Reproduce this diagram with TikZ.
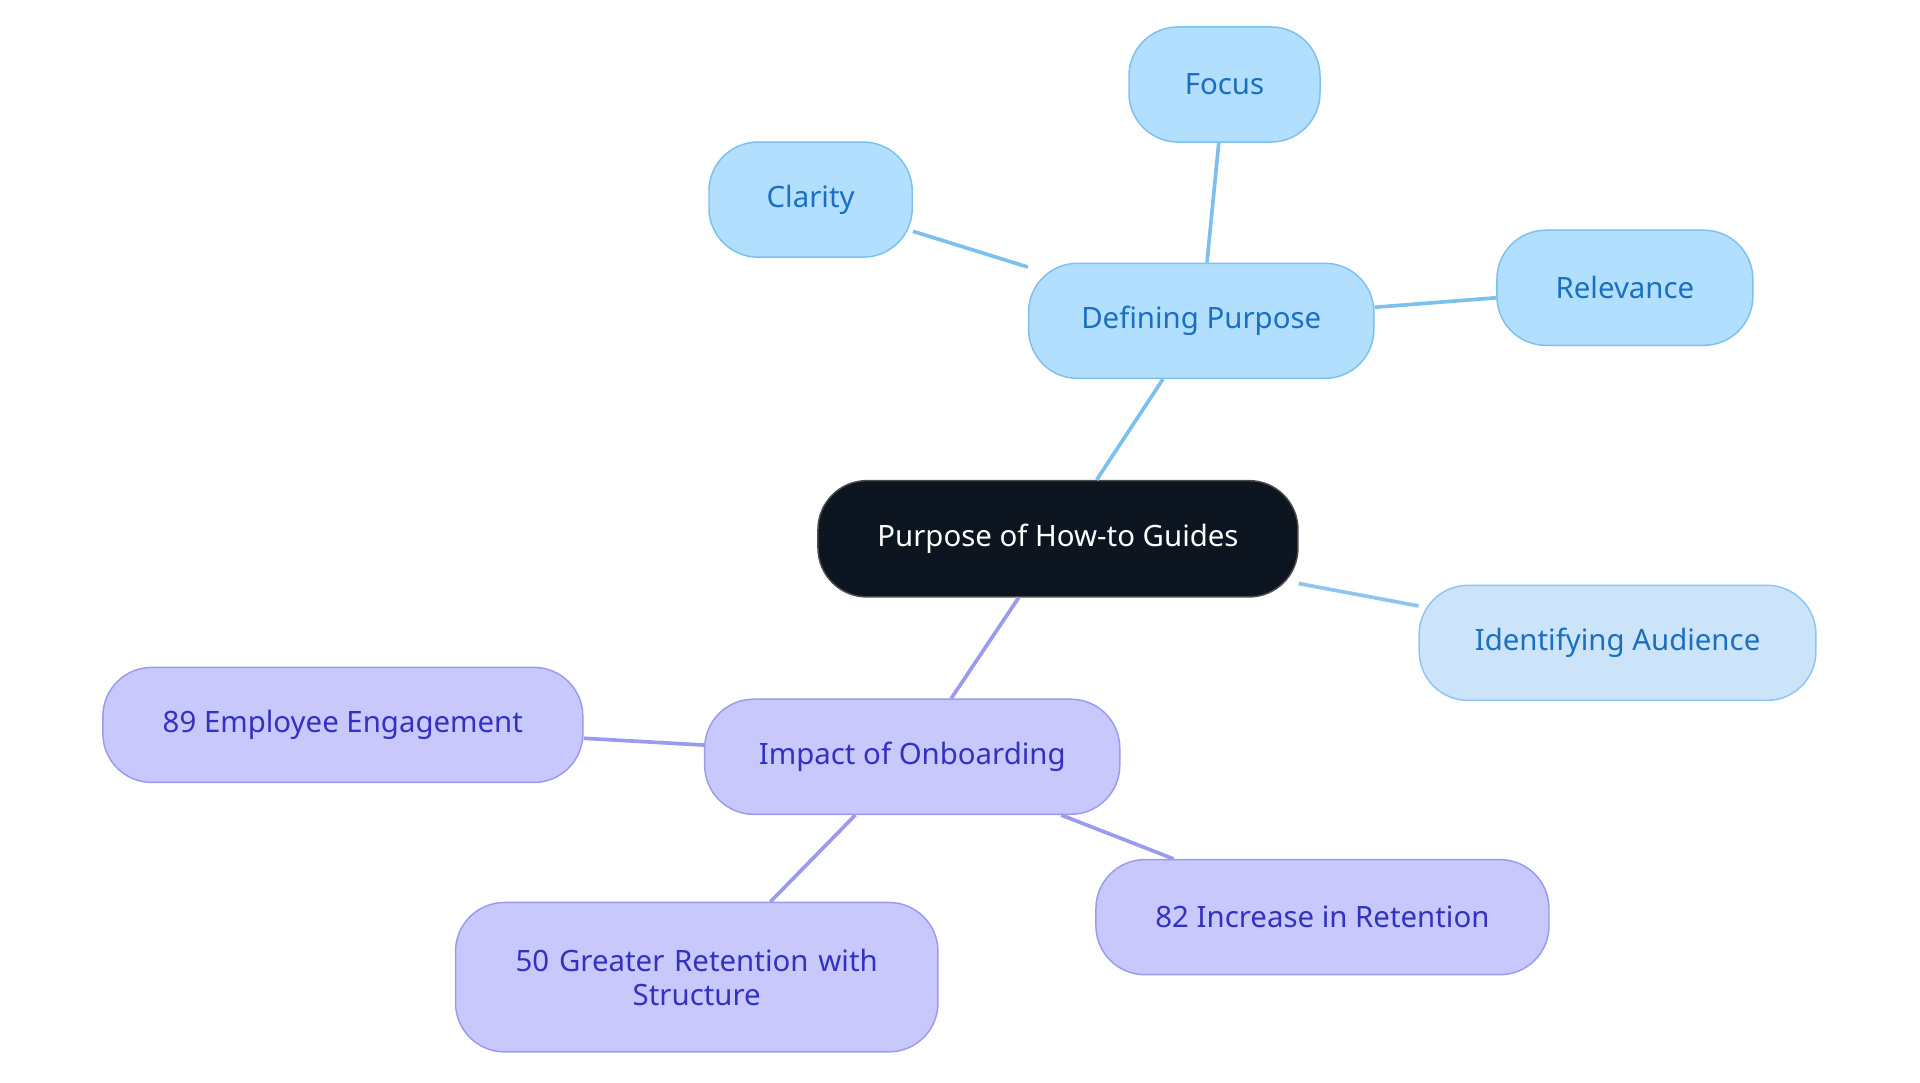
\documentclass[tikz,border=0pt]{standalone}
\usepackage{fontspec}
\setmainfont{Noto Sans}
\begin{document}
\begin{tikzpicture}[x=1pt,y=-1pt,
  box/.style={draw, line width=1.2pt, rounded corners=40pt, minimum height=94pt, align=center, font=\fontsize{24}{28}\selectfont},
  blue/.style={box, fill=c1fill, draw=c1line, text=c1text},
  aud/.style={box, fill=c2fill, draw=c2line, text=c1text},
  purp/.style={box, fill=c3fill, draw=c3line, text=c3text},
  bl/.style={c1line, line width=3pt},
  pl/.style={c3line, line width=3pt}]
\definecolor{c1fill}{HTML}{B3DFFF}
\definecolor{c1line}{HTML}{7CC0EE}
\definecolor{c1text}{HTML}{1A6FC0}
\definecolor{c2fill}{HTML}{CCE4FA}
\definecolor{c2line}{HTML}{90C4F0}
\definecolor{c3fill}{HTML}{C8C8FC}
\definecolor{c3line}{HTML}{9A9AEE}
\definecolor{c3text}{HTML}{3232C0}
\useasboundingbox (0,0) rectangle (1568,884);
\node[box, fill={rgb,255:red,13;green,21;blue,32}, draw=black!70, text=white, minimum width=392pt, minimum height=95pt] (c) at (864,440) {Purpose of How-to Guides};
\node[blue, minimum width=282pt] (dp) at (981,262) {Defining Purpose};
\node[blue, minimum width=156pt] (fo) at (1000,69) {Focus};
\node[blue, minimum width=166pt] (cl) at (662,163) {Clarity};
\node[blue, minimum width=209pt] (re) at (1327,235) {Relevance};
\node[aud, minimum width=324pt] (ia) at (1321,525) {Identifying Audience};
\node[purp, minimum width=339pt] (io) at (745,618) {Impact of Onboarding};
\node[purp, minimum width=392pt] (e89) at (280,592) {89 Employee Engagement};
\node[purp, minimum width=394pt, minimum height=122pt, text width=340pt, font=\fontsize{24}{28}\selectfont] (g50) at (569,798) {50 Greater Retention with\\Structure};
\node[purp, minimum width=370pt] (r82) at (1080,749) {82 Increase in Retention};
\begin{scope}[on background layer/.style={}]
\end{scope}
\draw[bl] (c) -- (dp);
\draw[bl] (dp) -- (fo);
\draw[bl] (dp) -- (cl);
\draw[bl] (dp) -- (re);
\draw[c2line, line width=3pt] (c) -- (ia);
\draw[pl] (c) -- (io);
\draw[pl] (io) -- (e89);
\draw[pl] (io) -- (g50);
\draw[pl] (io) -- (r82);
\end{tikzpicture}
\end{document}
